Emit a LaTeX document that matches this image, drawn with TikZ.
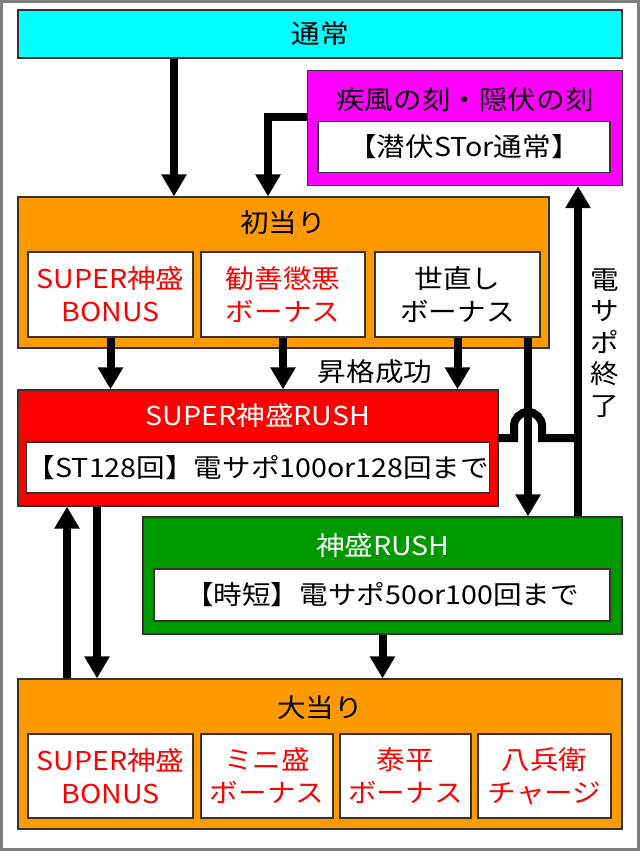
\documentclass[tikz,border=0pt]{standalone}
\usepackage{fontspec}
\setmainfont{Noto Sans CJK JP}[FakeStretch=1.1]
\usepackage{tikz}
\usetikzlibrary{arrows.meta}
\usetikzlibrary{calc}

\definecolor{normalcyan}{HTML}{00FFFF}
\definecolor{hidemagenta}{HTML}{FF00FF}
\definecolor{hitorange}{HTML}{FF9900}
\definecolor{rushred}{HTML}{FF0000}
\definecolor{rushgreen}{HTML}{009900}

\begin{document}
\begin{tikzpicture}[x=1pt, y=-1pt,
        every node/.style={font=\fontsize{26}{33}\selectfont},
        box/.style={draw=black!80, line width=1.2pt, inner sep=0pt},
        wbox/.style={box, fill=white, align=center},
        link/.style={line width=8pt},
        flow/.style={link, -{Triangle[width=24pt,length=22pt]}}]
        \useasboundingbox (0,0) rectangle (640,851);
        \draw[gray, line width=3pt] (1.5,1.5) rectangle (638.5,849.5);
        
        \coordinate (c1) at (174,0);
        \coordinate (c2) at (268,117);
        \coordinate (c3) at (528,0);
        \coordinate (c4) at (578,0);
        \coordinate (c5) at (67,0);
        \coordinate (c6) at (97,0);
        \coordinate (hop) at (528,438);
        
        % normal play
        \node[box, fill=normalcyan, minimum width=604, minimum height=48] (normal) at (320,34) {通常};
        
        % hidden mode
        \node[box, fill=hidemagenta, minimum width=315, minimum height=115] (hidden) at (465,128) {};
        \node (hiddenT) at (465,100) {疾風の刻・隠伏の刻};
        \node[wbox, minimum width=292, minimum height=51] (hiddenS) at (464,147) {【潜伏STor通常】};
        
        % first hit
        \node[box, fill=hitorange, minimum width=531, minimum height=151] (first) at (283.5,272.5) {};
        \node (firstT) at (283,223) {初当り};
        \node[wbox, text=rushred, minimum width=165, minimum height=85] (firstA) at (110.5,294.5) {SUPER神盛\\BONUS};
        \node[wbox, text=rushred, minimum width=164, minimum height=85] (firstB) at (283,294.5) {勧善懲悪\\ボーナス};
        \node[wbox, minimum width=165, minimum height=85] (firstC) at (457.5,294.5) {世直し\\ボーナス};
        
        % rush modes
        \node[box, fill=rushred, minimum width=480, minimum height=116] (srush) at (258,448) {};
        \node[text=white] (srushT) at (258,416) {SUPER神盛RUSH};
        \node[wbox, minimum width=460, minimum height=51] (srushS) at (258,467.5) {【ST128回】電サポ100or128回まで};
        
        \node[box, fill=rushgreen, minimum width=479, minimum height=117] (rush) at (382.5,575.5) {};
        \node[text=white] (rushT) at (383,546) {神盛RUSH};
        \node[wbox, minimum width=456, minimum height=52] (rushS) at (382,595) {【時短】電サポ50or100回まで};
        
        % jackpot
        \node[box, fill=hitorange, minimum width=604, minimum height=150] (big) at (320,754) {};
        \node (bigT) at (320,708) {大当り};
        \node[wbox, text=rushred, minimum width=165, minimum height=84] (bigA) at (110.5,776) {SUPER神盛\\BONUS};
        \node[wbox, text=rushred, minimum width=132, minimum height=84] (bigB) at (267,776) {ミニ盛\\ボーナス};
        \node[wbox, text=rushred, minimum width=131, minimum height=84] (bigC) at (405.5,776) {泰平\\ボーナス};
        \node[wbox, text=rushred, minimum width=133, minimum height=84] (bigD) at (544.5,776) {八兵衛\\チャージ};
        
        % arrows
        \draw[flow] (normal.south -| c1) -- (first.north -| c1);
        \draw[flow] (hidden.west |- c2) -| (first.north -| c2);
        \draw[flow] (firstA.south) -- (firstA.south |- srush.north);
        \draw[flow] (firstB.south) -- (firstB.south |- srush.north);
        \draw[flow] (firstC.south) -- (firstC.south |- srush.north);
        \node (upgrade) at (375,372) {昇格成功};
        \draw[flow] (firstC.south -| c3) -- (rush.north -| c3);
        \draw[flow] (rush.north -| c4) -- (hidden.south -| c4);
        \draw[link] (srush.east |- hop) -- ([xshift=-14]hop) -- ++(0,-12)
            arc[start angle=180, end angle=360, radius=14] -- ++(0,12) -- (hop -| c4);
        \node[align=center, font=\fontsize{26}{31.5}\selectfont] (ends) at (605,343) {電\\サ\\ポ\\終\\了};
        \draw[flow] (big.north -| c5) -- (srush.south -| c5);
        \draw[flow] (srush.south -| c6) -- (big.north -| c6);
        \draw[flow] (rush.south) -- (rush.south |- big.north);
        
    \end{tikzpicture}
\end{document}
